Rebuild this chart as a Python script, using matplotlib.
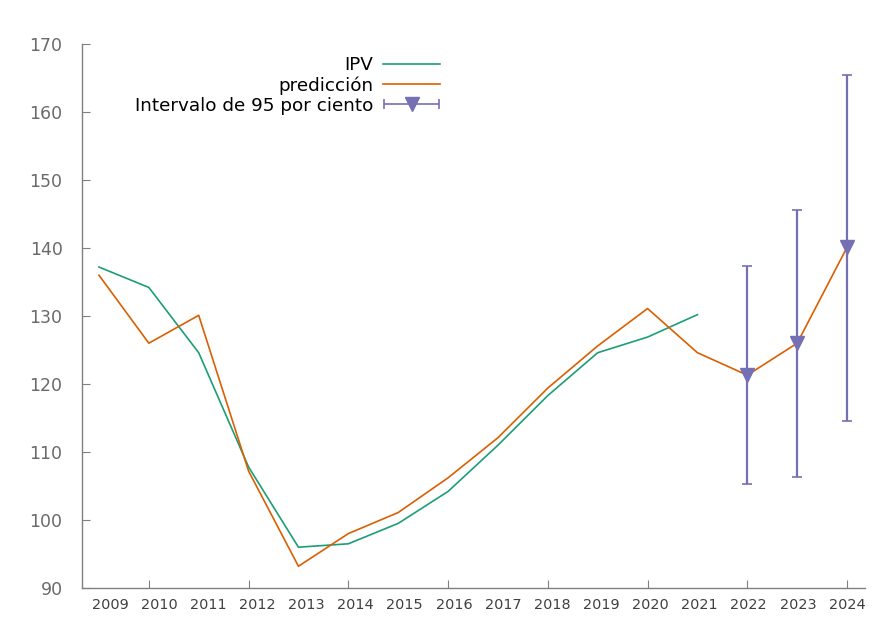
import numpy as np
import matplotlib
matplotlib.use('Agg')
import matplotlib.pyplot as plt
from matplotlib.container import ErrorbarContainer
from matplotlib.legend_handler import HandlerErrorbar

# data
years = np.arange(2009, 2025)
ipv_years = np.arange(2009, 2022)
ipv = [137.2, 134.2, 124.6, 107.8, 96.0, 96.5, 99.5, 104.2, 111.0, 118.3, 124.6, 126.9, 130.2]
pred = [136.0, 126.0, 130.1, 107.2, 93.2, 98.0, 101.1, 106.2, 112.1, 119.4, 125.6, 131.1, 124.6, 121.3, 126.0, 140.1]
ci_years = [2022, 2023, 2024]
ci_mid = [121.3, 126.0, 140.1]
ci_low = [105.3, 106.3, 114.5]
ci_high = [137.3, 145.6, 165.5]
tick_labels = [str(y) for y in years]

teal = '#1b9e77'
orange = '#d95f02'
purple = '#7570b3'
grey = '#808080'

fig = plt.figure(figsize=(8.77, 6.26), dpi=100)
ax = fig.add_axes([82/877, 1 - 588/626, (865-82)/877, (588-44)/626])

ax.plot(ipv_years, ipv, color=teal, lw=1.2, label='IPV')
ax.plot(years, pred, color=orange, lw=1.2, label='predicción')

yerr = [np.array(ci_mid) - np.array(ci_low), np.array(ci_high) - np.array(ci_mid)]
ax.errorbar(ci_years, ci_mid, yerr=yerr, fmt='v', color=purple, ms=10,
            elinewidth=1.6, capsize=3.6, capthick=1.2, zorder=3)

# proxy for the horizontal legend symbol
proxy = ax.errorbar([np.nan], [np.nan], xerr=[1], fmt='v', color=purple, ms=10,
                    elinewidth=1.2, capsize=3.6, capthick=1.2,
                    label='Intervalo de 95 por ciento')

ax.set_ylim(90, 170)
ax.set_xlim(2008.66, 2024.36)

for s in ['top', 'right']:
    ax.spines[s].set_visible(False)
for s in ['left', 'bottom']:
    ax.spines[s].set_color(grey)
    ax.spines[s].set_linewidth(1.0)

ax.set_yticks(np.arange(90, 171, 10))
ax.tick_params(axis='y', direction='in', length=6, color=grey, labelsize=12.5, labelcolor='#6a6a6a', pad=14)
ax.xaxis.remove_overlapping_locs = False
ax.set_xticks(np.arange(2010, 2025, 2))
ax.set_xticklabels([])
ax.tick_params(axis='x', which='major', direction='in', length=6, color=grey)
label_pos = np.linspace(2009.22, 2024.0, len(years))
ax.set_xticks(label_pos, labels=tick_labels, minor=True)
ax.tick_params(axis='x', which='minor', length=0, labelsize=10.4, labelcolor='#404040', pad=7)

handles, labels = ax.get_legend_handles_labels()
ax.legend(handles, labels, loc='upper right', bbox_to_anchor=((440-82)/783, (588-56)/544),
          frameon=False, markerfirst=False, fontsize=13.2, handlelength=3.1,
          handletextpad=0.55, labelspacing=0.12, borderpad=0, borderaxespad=0,
          handler_map={ErrorbarContainer: HandlerErrorbar(xerr_size=1.5, numpoints=1)})

fig.savefig('out.png', dpi=100)
